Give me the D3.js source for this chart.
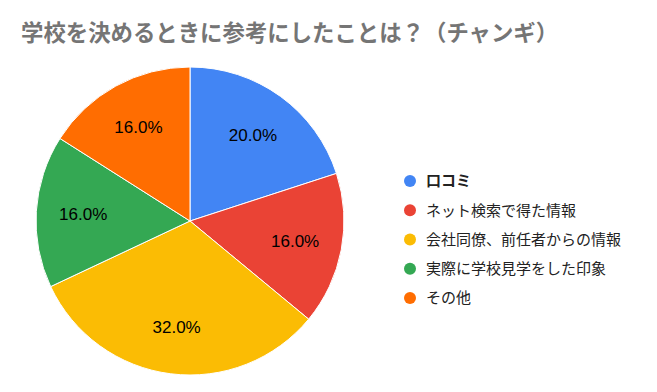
<!DOCTYPE html>
<html><head><meta charset="utf-8">
<script src="https://cdn.jsdelivr.net/npm/d3@7"></script>
<style>body{margin:0;background:#fff}svg{display:block}</style>
</head><body>
<svg id="c" width="657" height="392"></svg>
<script>
const title = "学校を決めるときに参考にしたことは？（チャンギ）";
const categories = ["口コミ", "ネット検索で得た情報", "会社同僚、前任者からの情報", "実際に学校見学をした印象", "その他"];
const values = [20, 16, 32, 16, 16];
const colors = ["#4285f4", "#ea4335", "#fbbc04", "#34a853", "#ff6d01"];

const svg = d3.select("#c");
const cx = 190, cy = 221, r = 154, labelR = 107;

svg.append("text").attr("x", 21).attr("y", 41)
  .attr("font-family", "'Noto Sans CJK JP', sans-serif").attr("font-weight", "bold")
  .attr("font-size", 22.4).attr("fill", "#757575").text(title);

const data = categories.map((c, i) => ({cat: c, v: values[i], col: colors[i]}));
const pie = d3.pie().value(d => d.v).sort(null);
const arcs = pie(data);
const arc = d3.arc().innerRadius(0).outerRadius(r);
const labelArc = d3.arc().innerRadius(labelR).outerRadius(labelR);
const total = d3.sum(values);

const g = svg.append("g").attr("transform", `translate(${cx},${cy})`);
g.selectAll("path").data(arcs).join("path")
  .attr("d", arc).attr("fill", d => d.data.col)
  .attr("stroke", "#fff").attr("stroke-width", 1);
g.selectAll("text").data(arcs).join("text")
  .attr("transform", d => `translate(${labelArc.centroid(d)})`)
  .attr("text-anchor", "middle").attr("dy", "0.36em")
  .attr("font-family", "'Liberation Sans', Arial, sans-serif")
  .attr("font-size", 17).attr("fill", "#000")
  .text(d => (d.data.v / total * 100).toFixed(1) + "%");

const leg = svg.append("g");
const ly = d3.scalePoint().domain(categories).range([181, 298]);
const items = leg.selectAll("g").data(data).join("g")
  .attr("transform", d => `translate(410,${ly(d.cat)})`);
items.append("circle").attr("r", 6).attr("fill", d => d.col);
items.append("text").attr("x", 16).attr("dy", "0.35em")
  .attr("font-family", "'Noto Sans CJK JP', sans-serif")
  .attr("font-size", 15).attr("fill", "#222")
  .attr("font-weight", (d, i) => i === 0 ? "bold" : "normal")
  .text(d => d.cat);
</script>
</body></html>
